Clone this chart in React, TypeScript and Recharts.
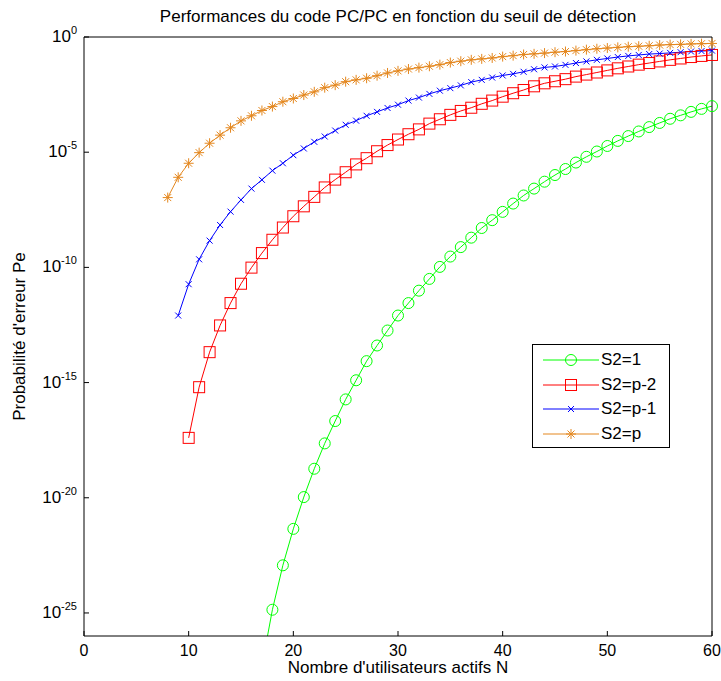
import React from 'react';
import { LineChart, Line, XAxis, YAxis } from 'recharts';

// N = nombre d'utilisateurs actifs
const nValues = [
  8, 9, 10, 11, 12, 13, 14, 15, 16, 17,
  18, 19, 20, 21, 22, 23, 24, 25, 26, 27,
  28, 29, 30, 31, 32, 33, 34, 35, 36, 37,
  38, 39, 40, 41, 42, 43, 44, 45, 46, 47,
  48, 49, 50, 51, 52, 53, 54, 55, 56, 57,
  58, 59, 60,
];

// Pe (null = no point at that N)
const peS2Eq1 = [
  null, null, null, null, null, null, null, null, null, 5.0e-28,
  1.38e-25, 1.17e-23, 4.47e-22, 1.07e-20, 1.82e-19, 2.29e-18, 2.14e-17, 1.86e-16, 1.26e-15, 8.51e-15,
  4.07e-14, 1.82e-13, 8.13e-13, 2.82e-12, 9.77e-12, 3.16e-11, 1.05e-10, 2.95e-10, 7.59e-10, 1.95e-9,
  5.13e-9, 1.12e-8, 2.57e-8, 5.89e-8, 1.32e-7, 2.63e-7, 5.25e-7, 1.02e-6, 1.86e-6, 3.55e-6,
  6.31e-6, 1.07e-5, 1.86e-5, 3.09e-5, 5.01e-5, 7.94e-5, 1.23e-4, 1.86e-4, 2.82e-4, 3.98e-4,
  5.62e-4, 7.59e-4, 1.0e-3,
];

const peS2EqPm2 = [
  null, null, 3.98e-18, 6.31e-16, 2.09e-14, 3.02e-13, 2.82e-12, 1.95e-11, 9.77e-11, 4.17e-10,
  1.58e-9, 5.37e-9, 1.66e-8, 4.47e-8, 1.15e-7, 2.95e-7, 6.46e-7, 1.35e-6, 2.95e-6, 5.5e-6,
  1.1e-5, 2.04e-5, 3.55e-5, 6.03e-5, 9.77e-5, 1.74e-4, 2.69e-4, 4.17e-4, 6.17e-4, 8.51e-4,
  1.26e-3, 1.74e-3, 2.57e-3, 3.63e-3, 5.01e-3, 7.24e-3, 9.77e-3, 1.2e-2, 1.48e-2, 1.91e-2,
  2.34e-2, 2.88e-2, 3.55e-2, 4.37e-2, 5.25e-2, 6.31e-2, 7.41e-2, 8.71e-2, 0.102, 0.117,
  0.135, 0.151, 0.166,
];

const peS2EqPm1 = [
  null, 8.13e-13, 1.86e-11, 2.24e-10, 1.45e-9, 6.92e-9, 2.63e-8, 8.51e-8, 2.63e-7, 6.31e-7,
  1.58e-6, 3.31e-6, 7.41e-6, 1.45e-5, 2.82e-5, 4.79e-5, 8.71e-5, 1.55e-4, 2.34e-4, 3.8e-4,
  5.62e-4, 8.32e-4, 1.15e-3, 1.74e-3, 2.34e-3, 3.39e-3, 4.68e-3, 6.03e-3, 7.94e-3, 1.1e-2,
  1.38e-2, 1.74e-2, 2.14e-2, 2.51e-2, 3.09e-2, 3.98e-2, 4.79e-2, 5.25e-2, 6.17e-2, 7.41e-2,
  8.71e-2, 0.102, 0.117, 0.135, 0.151, 0.166, 0.182, 0.191, 0.204, 0.219,
  0.234, 0.245, 0.257,
];

const peS2EqP = [
  1.07e-7, 8.13e-7, 3.31e-6, 9.55e-6, 2.45e-5, 5.5e-5, 1.15e-4, 2.29e-4, 3.8e-4, 6.46e-4,
  9.55e-4, 1.55e-3, 2.14e-3, 3.02e-3, 4.17e-3, 6.31e-3, 8.13e-3, 1.15e-2, 1.38e-2, 1.62e-2,
  2.09e-2, 2.75e-2, 3.39e-2, 4.07e-2, 4.68e-2, 5.37e-2, 6.31e-2, 7.76e-2, 8.91e-2, 0.102,
  0.112, 0.123, 0.141, 0.155, 0.174, 0.186, 0.2, 0.219, 0.234, 0.257,
  0.282, 0.309, 0.331, 0.355, 0.38, 0.398, 0.417, 0.447, 0.468, 0.479,
  0.501, 0.513, 0.525,
];

const xTicks = [0, 10, 20, 30, 40, 50, 60];
const yTicks = [1e-25, 1e-20, 1e-15, 1e-10, 1e-5, 1];
const yTickExponents = ['-25', '-20', '-15', '-10', '-5', '0'];

const data = nValues.map((n, i) => ({
  n,
  s2_1: peS2Eq1[i],
  s2_pm2: peS2EqPm2[i],
  s2_pm1: peS2EqPm1[i],
  s2_p: peS2EqP[i],
}));

const FONT = '"Liberation Sans", Arial, Helvetica, sans-serif';
const GREEN = '#00ff00';
const RED = '#ff0000';
const BLUE = '#0000ff';
const ORANGE = '#e4871e';

type MarkerKind = 'circle' | 'square' | 'x' | 'star';

function Marker({ kind, cx, cy, color }: { kind: MarkerKind; cx: number; cy: number; color: string }) {
  if (kind === 'circle') return <circle cx={cx} cy={cy} r={5.5} fill="none" stroke={color} strokeWidth={1} />;
  if (kind === 'square')
    return <rect x={cx - 5.5} y={cy - 5.5} width={11} height={11} fill="none" stroke={color} strokeWidth={1} />;
  if (kind === 'x')
    return (
      <g stroke={color} strokeWidth={1}>
        <line x1={cx - 3} y1={cy - 3} x2={cx + 3} y2={cy + 3} />
        <line x1={cx - 3} y1={cy + 3} x2={cx + 3} y2={cy - 3} />
      </g>
    );
  return (
    <g stroke={color} strokeWidth={1}>
      <line x1={cx - 5} y1={cy} x2={cx + 5} y2={cy} />
      <line x1={cx} y1={cy - 5} x2={cx} y2={cy + 5} />
      <line x1={cx - 3.5} y1={cy - 3.5} x2={cx + 3.5} y2={cy + 3.5} />
      <line x1={cx - 3.5} y1={cy + 3.5} x2={cx + 3.5} y2={cy - 3.5} />
    </g>
  );
}

function makeDot(kind: MarkerKind, color: string, name: string) {
  return (props: any) => {
    const { cx, cy, index, value } = props;
    if (value == null || cx == null || cy == null || Number.isNaN(cy)) return <g key={`${name}-${index}`} />;
    return (
      <g key={`${name}-${index}`}>
        <Marker kind={kind} cx={cx} cy={cy} color={color} />
      </g>
    );
  };
}

function PowerTick(props: any) {
  const { x, y, payload } = props;
  const idx = yTicks.indexOf(payload.value);
  const exp = idx >= 0 ? yTickExponents[idx] : '';
  return (
    <text x={x} y={y + 5} textAnchor="end" fontSize={17} fontFamily={FONT} fill="#000">
      <tspan>10</tspan>
      <tspan dy={-8} fontSize={11}>
        {exp}
      </tspan>
    </text>
  );
}

const series = [
  { key: 's2_1', name: 'S2=1', color: GREEN, kind: 'circle' as MarkerKind },
  { key: 's2_pm2', name: 'S2=p-2', color: RED, kind: 'square' as MarkerKind },
  { key: 's2_pm1', name: 'S2=p-1', color: BLUE, kind: 'x' as MarkerKind },
  { key: 's2_p', name: 'S2=p', color: ORANGE, kind: 'star' as MarkerKind },
];

function LegendBox() {
  return (
    <div
      style={{
        position: 'absolute',
        left: 532,
        top: 344,
        width: 138,
        height: 104,
        border: '1px solid #000',
        background: '#fff',
        fontFamily: FONT,
        fontSize: 17,
        color: '#000',
        boxSizing: 'border-box',
        paddingTop: 3,
      }}
    >
      {series.map((s) => (
        <div key={s.key} style={{ display: 'flex', alignItems: 'center', height: 24.5 }}>
          <svg width={58} height={20} style={{ marginLeft: 10, display: 'block' }}>
            <line x1={0} y1={10} x2={56} y2={10} stroke={s.color} strokeWidth={1} />
            <Marker kind={s.kind} cx={28} cy={10} color={s.color} />
          </svg>
          <span>{s.name}</span>
        </div>
      ))}
    </div>
  );
}

export default function App() {
  return (
    <div style={{ position: 'absolute', left: 0, top: 0, width: 721, height: 681, background: '#fff' }}>
      <LineChart width={721} height={681} data={data} margin={{ top: 36, right: 8, bottom: 0, left: 0 }}>
        <XAxis
          dataKey="n"
          type="number"
          domain={[0, 60]}
          ticks={xTicks}
          height={45}
          tickSize={-5}
          tickMargin={14}
          axisLine={{ stroke: '#000' }}
          tickLine={{ stroke: '#000' }}
          tick={{ fill: '#000', fontSize: 16, fontFamily: FONT }}
          label={{
            value: "Nombre d'utilisateurs actifs N",
            position: 'insideBottom',
            offset: 8,
            fill: '#000',
            fontSize: 17,
            fontFamily: FONT,
          }}
        />
        <XAxis
          xAxisId="top"
          orientation="top"
          type="number"
          domain={[0, 60]}
          ticks={xTicks}
          height={1}
          tickSize={-5}
          tick={false}
          axisLine={{ stroke: '#000' }}
          tickLine={{ stroke: '#000' }}
          label={{
            value: 'Performances du code PC/PC en fonction du seuil de détection',
            position: 'top',
            offset: 14,
            fill: '#000',
            fontSize: 17,
            fontFamily: FONT,
          }}
        />
        <YAxis
          type="number"
          scale="log"
          domain={[1e-26, 1]}
          allowDataOverflow
          ticks={yTicks}
          width={84}
          tickSize={-5}
          tickMargin={12}
          axisLine={{ stroke: '#000' }}
          tickLine={{ stroke: '#000' }}
          tick={<PowerTick />}
          label={{
            value: "Probabilité d'erreur Pe",
            angle: -90,
            position: 'insideLeft',
            offset: 19,
            fill: '#000',
            fontSize: 17,
            fontFamily: FONT,
            style: { textAnchor: 'middle' },
          }}
        />
        <YAxis
          yAxisId="right"
          orientation="right"
          type="number"
          scale="log"
          domain={[1e-26, 1]}
          allowDataOverflow
          ticks={yTicks}
          width={1}
          tickSize={-5}
          tick={false}
          axisLine={{ stroke: '#000' }}
          tickLine={{ stroke: '#000' }}
        />
        {series.map((s) => (
          <Line
            key={s.key}
            dataKey={s.key}
            name={s.name}
            stroke={s.color}
            strokeWidth={1}
            dot={makeDot(s.kind, s.color, s.key)}
            activeDot={false}
            isAnimationActive={false}
            connectNulls={false}
          />
        ))}
      </LineChart>
      <LegendBox />
    </div>
  );
}
